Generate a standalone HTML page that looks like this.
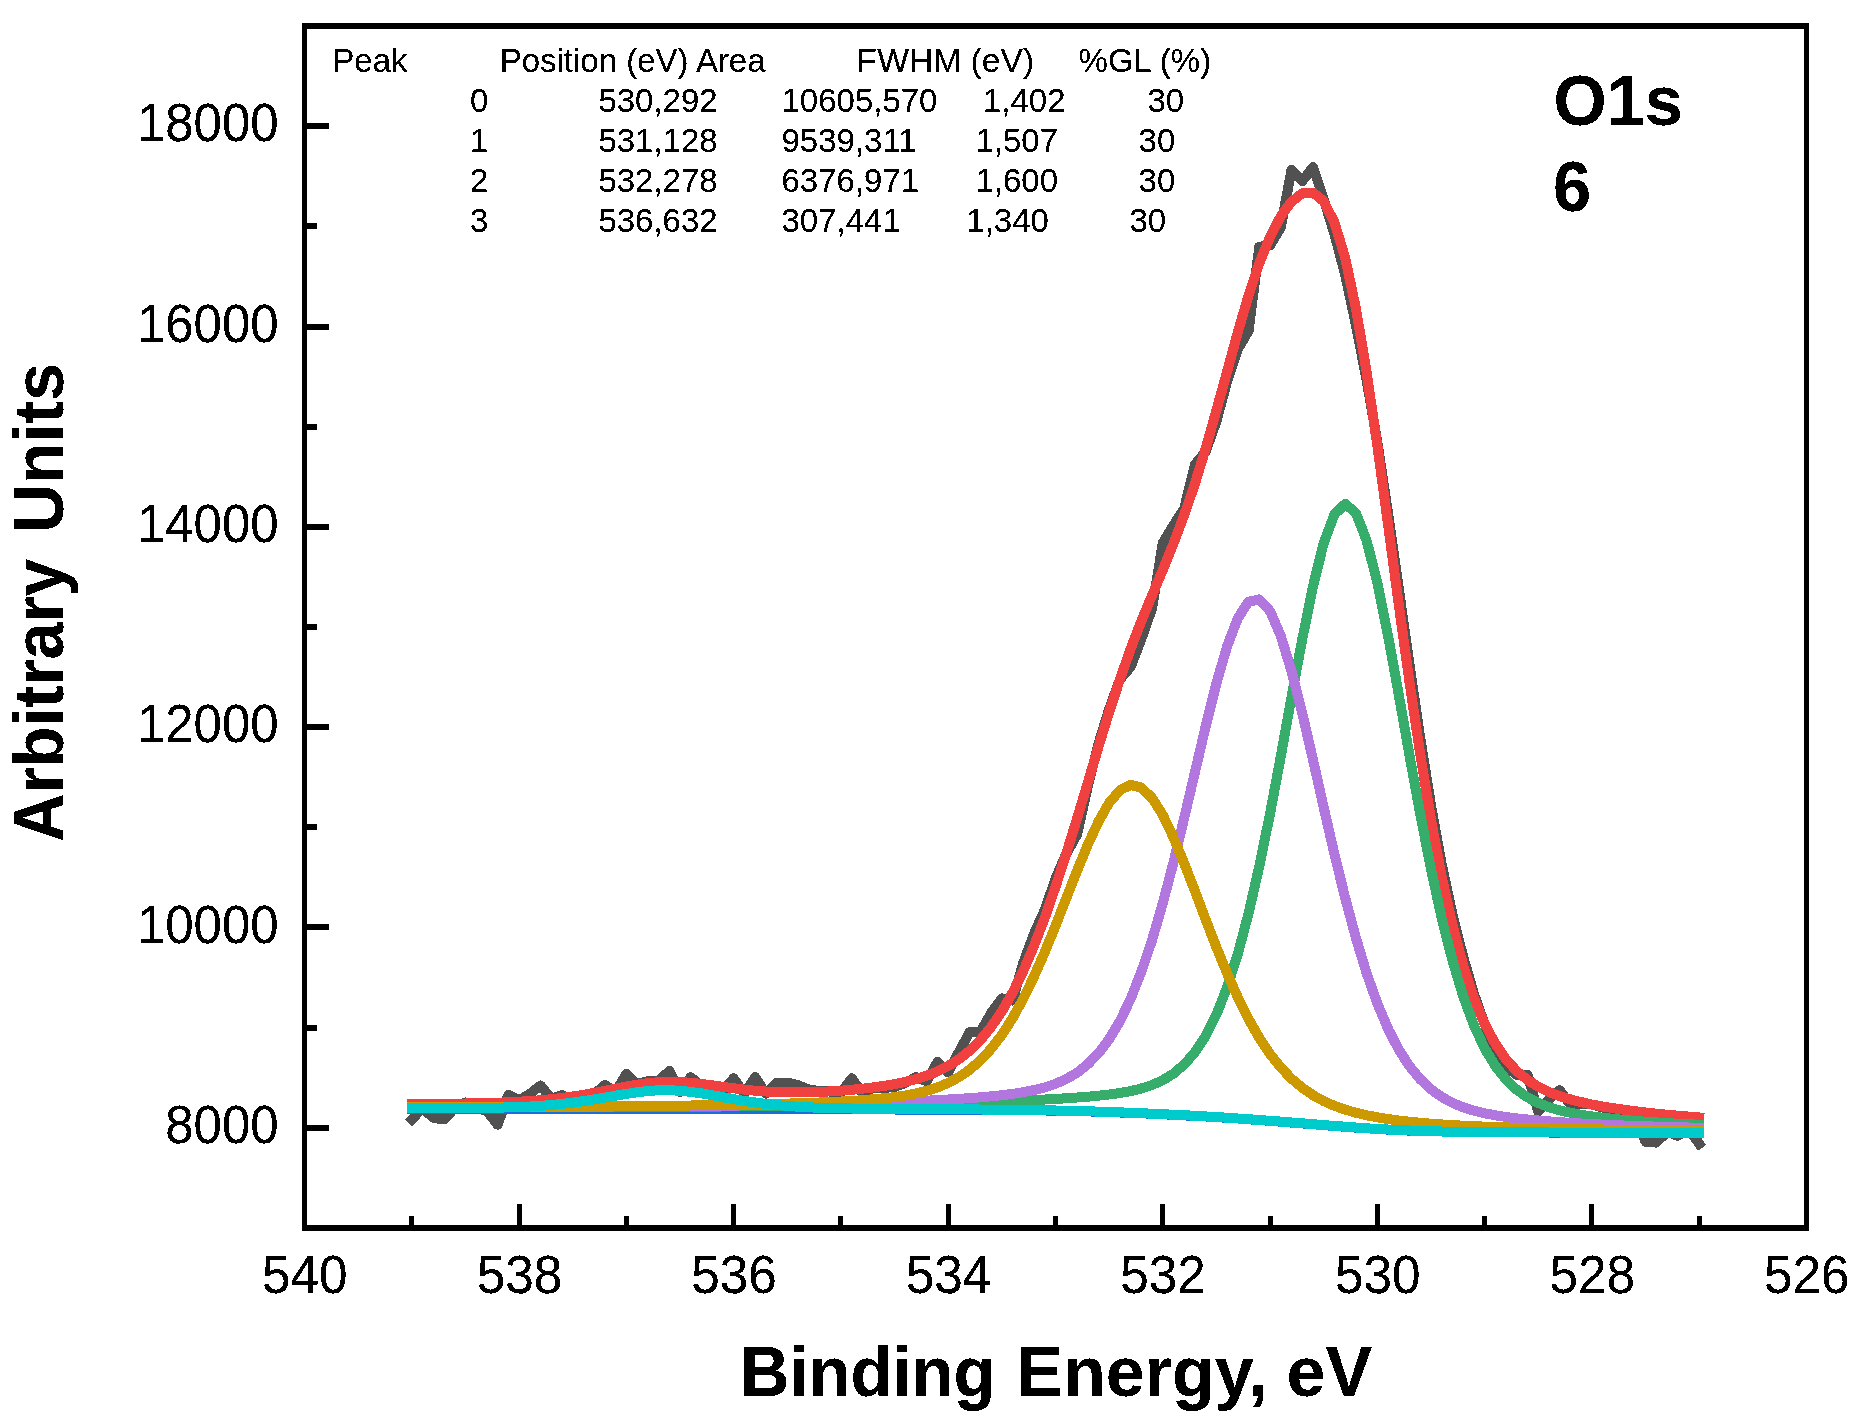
<!DOCTYPE html>
<html lang="en">
<head>
<meta charset="utf-8">
<title>O1s XPS spectrum</title>
<style>
html,body{margin:0;padding:0;background:#fff;}
body{width:1855px;height:1426px;overflow:hidden;}
svg{display:block;}
</style>
</head>
<body>
<svg width="1855" height="1426" viewBox="0 0 1855 1426">
<rect x="0" y="0" width="1855" height="1426" fill="#ffffff"/>
<defs><filter id="hard" x="0" y="0" width="1855" height="1426" filterUnits="userSpaceOnUse" color-interpolation-filters="sRGB"><feComponentTransfer><feFuncA type="discrete" tableValues="0 0 1 1 1"/></feComponentTransfer></filter></defs>
<g id="curves" shape-rendering="crispEdges">
<polyline points="411.8,1119.5 422.5,1108.0 433.2,1117.8 444.0,1119.5 454.7,1108.0 465.4,1102.5 476.2,1108.0 486.9,1111.0 497.6,1124.7 508.3,1095.0 519.1,1100.2 529.8,1094.0 540.5,1085.5 551.3,1098.5 562.0,1095.0 572.7,1100.0 583.4,1097.0 594.2,1094.0 604.9,1085.0 615.6,1092.0 626.4,1074.0 637.1,1084.0 647.8,1081.2 658.5,1081.2 669.3,1070.9 680.0,1091.9 690.7,1077.2 701.5,1086.0 712.2,1088.0 722.9,1091.0 733.6,1078.3 744.4,1094.0 755.1,1077.1 765.8,1093.7 776.6,1082.6 787.3,1082.6 798.0,1085.2 808.7,1089.5 819.5,1091.0 830.2,1091.6 840.9,1093.0 851.7,1078.3 862.4,1093.0 873.1,1088.1 883.8,1088.0 894.6,1087.0 905.3,1083.0 916.0,1077.1 926.8,1081.2 937.5,1061.9 948.2,1072.6 958.9,1052.0 969.7,1032.1 980.4,1032.1 991.1,1013.0 1001.9,998.3 1012.6,1000.6 1023.3,962.8 1034.0,933.8 1044.8,909.8 1055.5,878.9 1066.2,853.8 1077.0,834.8 1087.7,787.0 1098.4,744.1 1109.1,709.3 1119.9,679.4 1130.6,667.0 1141.3,639.2 1152.1,608.3 1162.8,542.9 1173.5,525.1 1184.2,508.5 1195.0,464.5 1205.7,451.4 1216.4,421.5 1227.2,381.1 1237.9,348.9 1248.6,330.9 1259.3,246.8 1270.1,245.4 1280.8,227.3 1291.5,169.8 1302.3,181.1 1313.0,167.0 1323.7,199.2 1334.4,234.0 1345.2,275.0 1355.9,325.0 1366.6,380.2 1377.4,442.4 1388.1,513.7 1398.8,588.6 1409.5,664.6 1420.3,738.2 1431.0,805.1 1441.7,864.0 1452.5,914.5 1463.2,956.7 1473.9,993.8 1484.6,1023.8 1495.4,1050.9 1506.1,1066.4 1516.8,1075.1 1527.6,1075.0 1538.3,1111.6 1549.0,1099.0 1559.7,1090.2 1570.5,1104.7 1581.2,1104.1 1591.9,1104.5 1602.7,1107.5 1613.4,1109.2 1624.1,1109.8 1634.8,1117.2 1645.6,1141.8 1656.3,1142.6 1667.0,1132.0 1677.8,1135.7 1688.5,1129.0 1699.2,1143.8" fill="none" stroke="#515151" stroke-width="10" stroke-linecap="square" stroke-linejoin="round"/>
<polyline points="411.8,1104.4 422.5,1104.2 433.2,1104.1 444.0,1103.9 454.7,1103.7 465.4,1103.5 476.2,1103.3 486.9,1103.0 497.6,1102.7 508.3,1102.3 519.1,1101.7 529.8,1101.1 540.5,1100.2 551.3,1099.2 562.0,1098.0 572.7,1096.5 583.4,1094.8 594.2,1092.9 604.9,1090.8 615.6,1088.7 626.4,1086.6 637.1,1084.7 647.8,1083.2 658.5,1082.2 669.3,1081.8 680.0,1082.0 690.7,1082.8 701.5,1083.9 712.2,1085.3 722.9,1086.8 733.6,1088.3 744.4,1089.6 755.1,1090.7 765.8,1091.5 776.6,1092.1 787.3,1092.4 798.0,1092.5 808.7,1092.3 819.5,1092.0 830.2,1091.4 840.9,1090.7 851.7,1089.8 862.4,1088.7 873.1,1087.4 883.8,1085.9 894.6,1084.1 905.3,1081.9 916.0,1079.1 926.8,1075.7 937.5,1071.4 948.2,1066.0 958.9,1059.2 969.7,1050.7 980.4,1040.1 991.1,1027.0 1001.9,1011.3 1012.6,992.6 1023.3,970.8 1034.0,945.8 1044.8,917.8 1055.5,886.9 1066.2,853.8 1077.0,818.8 1087.7,783.0 1098.4,747.1 1109.1,712.3 1119.9,679.4 1130.6,649.0 1141.3,621.2 1152.1,595.3 1162.8,569.9 1173.5,543.6 1184.2,515.1 1195.0,483.5 1205.7,448.4 1216.4,410.5 1227.2,371.1 1237.9,331.9 1248.6,295.3 1259.3,263.2 1270.1,236.7 1280.8,216.2 1291.5,201.6 1302.3,193.3 1313.0,192.5 1323.7,201.3 1334.4,222.3 1345.2,257.9 1355.9,308.4 1366.6,372.3 1377.4,446.0 1388.1,524.9 1398.8,604.9 1409.5,682.3 1420.3,754.5 1431.0,819.6 1441.7,876.6 1452.5,925.1 1463.2,965.4 1473.9,998.0 1484.6,1023.8 1495.4,1043.9 1506.1,1059.4 1516.8,1071.1 1527.6,1080.0 1538.3,1086.8 1549.0,1092.0 1559.7,1096.1 1570.5,1099.4 1581.2,1102.1 1591.9,1104.5 1602.7,1106.5 1613.4,1108.2 1624.1,1109.8 1634.8,1111.2 1645.6,1112.5 1656.3,1113.7 1667.0,1114.7 1677.8,1115.7 1688.5,1116.6 1699.2,1117.5" fill="none" stroke="#f14040" stroke-width="10" stroke-linecap="square" stroke-linejoin="round"/>
<polyline points="411.8,1108.8 422.5,1108.8 433.2,1108.8 444.0,1108.8 454.7,1108.8 465.4,1108.8 476.2,1108.8 486.9,1108.8 497.6,1108.8 508.3,1108.8 519.1,1108.9 529.8,1108.9 540.5,1108.9 551.3,1108.9 562.0,1108.9 572.7,1108.9 583.4,1108.9 594.2,1108.9 604.9,1108.9 615.6,1109.0 626.4,1109.0 637.1,1109.0 647.8,1109.0 658.5,1109.0 669.3,1109.1 680.0,1109.1 690.7,1109.1 701.5,1109.1 712.2,1109.2 722.9,1109.2 733.6,1109.2 744.4,1109.2 755.1,1109.2 765.8,1109.3 776.6,1109.3 787.3,1109.3 798.0,1109.3 808.7,1109.3 819.5,1109.3 830.2,1109.4 840.9,1109.4 851.7,1109.4 862.4,1109.4 873.1,1109.4 883.8,1109.5 894.6,1109.5 905.3,1109.5 916.0,1109.5 926.8,1109.6 937.5,1109.6 948.2,1109.6 958.9,1109.7 969.7,1109.7 980.4,1109.8 991.1,1109.8 1001.9,1109.9 1012.6,1110.0 1023.3,1110.2 1034.0,1110.3 1044.8,1110.5 1055.5,1110.7 1066.2,1110.9 1077.0,1111.1 1087.7,1111.4 1098.4,1111.7 1109.1,1112.1 1119.9,1112.5 1130.6,1112.9 1141.3,1113.3 1152.1,1113.8 1162.8,1114.3 1173.5,1114.8 1184.2,1115.4 1195.0,1115.9 1205.7,1116.5 1216.4,1117.2 1227.2,1117.8 1237.9,1118.5 1248.6,1119.3 1259.3,1120.1 1270.1,1120.9 1280.8,1121.7 1291.5,1122.6 1302.3,1123.4 1313.0,1124.3 1323.7,1125.1 1334.4,1126.0 1345.2,1126.8 1355.9,1127.6 1366.6,1128.3 1377.4,1129.0 1388.1,1129.6 1398.8,1130.1 1409.5,1130.6 1420.3,1130.9 1431.0,1131.3 1441.7,1131.5 1452.5,1131.7 1463.2,1131.9 1473.9,1132.0 1484.6,1132.2 1495.4,1132.3 1506.1,1132.3 1516.8,1132.4 1527.6,1132.4 1538.3,1132.5 1549.0,1132.5 1559.7,1132.6 1570.5,1132.6 1581.2,1132.6 1591.9,1132.6 1602.7,1132.7 1613.4,1132.7 1624.1,1132.7 1634.8,1132.7 1645.6,1132.8 1656.3,1132.8 1667.0,1132.8 1677.8,1132.8 1688.5,1132.8 1699.2,1132.8" fill="none" stroke="#1a6fdf" stroke-width="10" stroke-linecap="square" stroke-linejoin="round"/>
<polyline points="411.8,1107.6 422.5,1107.6 433.2,1107.6 444.0,1107.5 454.7,1107.5 465.4,1107.5 476.2,1107.4 486.9,1107.4 497.6,1107.4 508.3,1107.4 519.1,1107.3 529.8,1107.3 540.5,1107.3 551.3,1107.2 562.0,1107.2 572.7,1107.1 583.4,1107.1 594.2,1107.1 604.9,1107.0 615.6,1107.0 626.4,1107.0 637.1,1106.9 647.8,1106.9 658.5,1106.8 669.3,1106.8 680.0,1106.7 690.7,1106.7 701.5,1106.6 712.2,1106.6 722.9,1106.5 733.6,1106.4 744.4,1106.4 755.1,1106.3 765.8,1106.2 776.6,1106.1 787.3,1106.0 798.0,1105.9 808.7,1105.7 819.5,1105.6 830.2,1105.5 840.9,1105.3 851.7,1105.2 862.4,1105.0 873.1,1104.8 883.8,1104.6 894.6,1104.4 905.3,1104.2 916.0,1104.0 926.8,1103.7 937.5,1103.5 948.2,1103.2 958.9,1102.9 969.7,1102.5 980.4,1102.2 991.1,1101.8 1001.9,1101.4 1012.6,1101.0 1023.3,1100.5 1034.0,1100.0 1044.8,1099.5 1055.5,1098.9 1066.2,1098.3 1077.0,1097.5 1087.7,1096.7 1098.4,1095.7 1109.1,1094.5 1119.9,1093.0 1130.6,1091.1 1141.3,1088.5 1152.1,1085.0 1162.8,1080.2 1173.5,1073.6 1184.2,1064.5 1195.0,1052.2 1205.7,1035.8 1216.4,1014.4 1227.2,987.2 1237.9,953.6 1248.6,913.2 1259.3,866.2 1270.1,813.4 1280.8,756.2 1291.5,697.0 1302.3,639.0 1313.0,586.2 1323.7,543.1 1334.4,514.5 1345.2,503.9 1355.9,513.0 1366.6,540.5 1377.4,583.1 1388.1,636.1 1398.8,695.0 1409.5,755.5 1420.3,814.4 1431.0,869.2 1441.7,918.2 1452.5,960.7 1463.2,996.3 1473.9,1025.3 1484.6,1048.3 1495.4,1066.1 1506.1,1079.7 1516.8,1089.8 1527.6,1097.4 1538.3,1103.0 1549.0,1107.2 1559.7,1110.4 1570.5,1112.8 1581.2,1114.8 1591.9,1116.4 1602.7,1117.8 1613.4,1118.9 1624.1,1119.9 1634.8,1120.9 1645.6,1121.7 1656.3,1122.4 1667.0,1123.1 1677.8,1123.7 1688.5,1124.2 1699.2,1124.7" fill="none" stroke="#37ad6b" stroke-width="10" stroke-linecap="square" stroke-linejoin="round"/>
<polyline points="411.8,1107.4 422.5,1107.3 433.2,1107.3 444.0,1107.3 454.7,1107.2 465.4,1107.2 476.2,1107.2 486.9,1107.1 497.6,1107.1 508.3,1107.0 519.1,1107.0 529.8,1106.9 540.5,1106.9 551.3,1106.8 562.0,1106.8 572.7,1106.7 583.4,1106.7 594.2,1106.6 604.9,1106.6 615.6,1106.5 626.4,1106.4 637.1,1106.4 647.8,1106.3 658.5,1106.2 669.3,1106.2 680.0,1106.1 690.7,1106.0 701.5,1105.9 712.2,1105.8 722.9,1105.7 733.6,1105.6 744.4,1105.4 755.1,1105.3 765.8,1105.1 776.6,1105.0 787.3,1104.8 798.0,1104.6 808.7,1104.4 819.5,1104.2 830.2,1103.9 840.9,1103.7 851.7,1103.4 862.4,1103.1 873.1,1102.8 883.8,1102.4 894.6,1102.0 905.3,1101.6 916.0,1101.2 926.8,1100.7 937.5,1100.1 948.2,1099.5 958.9,1098.9 969.7,1098.1 980.4,1097.3 991.1,1096.3 1001.9,1095.2 1012.6,1093.9 1023.3,1092.2 1034.0,1090.1 1044.8,1087.4 1055.5,1083.8 1066.2,1079.0 1077.0,1072.7 1087.7,1064.3 1098.4,1053.4 1109.1,1039.2 1119.9,1021.2 1130.6,998.9 1141.3,971.9 1152.1,940.0 1162.8,903.2 1173.5,862.3 1184.2,818.0 1195.0,772.0 1205.7,726.2 1216.4,683.3 1227.2,646.1 1237.9,618.0 1248.6,601.7 1259.3,599.4 1270.1,611.2 1280.8,636.0 1291.5,671.1 1302.3,713.4 1313.0,759.8 1323.7,807.4 1334.4,854.1 1345.2,898.0 1355.9,937.9 1366.6,973.2 1377.4,1003.6 1388.1,1028.9 1398.8,1049.7 1409.5,1066.2 1420.3,1079.3 1431.0,1089.3 1441.7,1097.0 1452.5,1102.9 1463.2,1107.3 1473.9,1110.7 1484.6,1113.3 1495.4,1115.3 1506.1,1117.0 1516.8,1118.4 1527.6,1119.5 1538.3,1120.5 1549.0,1121.4 1559.7,1122.2 1570.5,1122.9 1581.2,1123.5 1591.9,1124.1 1602.7,1124.6 1613.4,1125.1 1624.1,1125.5 1634.8,1125.9 1645.6,1126.3 1656.3,1126.6 1667.0,1127.0 1677.8,1127.3 1688.5,1127.5 1699.2,1127.8" fill="none" stroke="#b177de" stroke-width="10" stroke-linecap="square" stroke-linejoin="round"/>
<polyline points="411.8,1107.4 422.5,1107.4 433.2,1107.4 444.0,1107.3 454.7,1107.3 465.4,1107.2 476.2,1107.2 486.9,1107.1 497.6,1107.1 508.3,1107.0 519.1,1107.0 529.8,1106.9 540.5,1106.8 551.3,1106.8 562.0,1106.7 572.7,1106.6 583.4,1106.6 594.2,1106.5 604.9,1106.4 615.6,1106.3 626.4,1106.2 637.1,1106.1 647.8,1106.0 658.5,1105.9 669.3,1105.8 680.0,1105.7 690.7,1105.5 701.5,1105.4 712.2,1105.2 722.9,1105.1 733.6,1104.9 744.4,1104.6 755.1,1104.4 765.8,1104.2 776.6,1103.9 787.3,1103.6 798.0,1103.2 808.7,1102.9 819.5,1102.5 830.2,1102.0 840.9,1101.5 851.7,1100.9 862.4,1100.2 873.1,1099.3 883.8,1098.3 894.6,1097.1 905.3,1095.5 916.0,1093.5 926.8,1090.8 937.5,1087.4 948.2,1082.9 958.9,1077.1 969.7,1069.7 980.4,1060.4 991.1,1048.8 1001.9,1034.8 1012.6,1018.1 1023.3,998.6 1034.0,976.5 1044.8,952.0 1055.5,925.8 1066.2,898.4 1077.0,871.0 1087.7,844.9 1098.4,821.7 1109.1,802.9 1119.9,790.2 1130.6,784.9 1141.3,787.6 1152.1,798.0 1162.8,815.1 1173.5,837.5 1184.2,863.4 1195.0,891.2 1205.7,919.6 1216.4,947.3 1227.2,973.5 1237.9,997.5 1248.6,1019.1 1259.3,1037.9 1270.1,1054.0 1280.8,1067.5 1291.5,1078.7 1302.3,1087.8 1313.0,1095.2 1323.7,1101.1 1334.4,1105.8 1345.2,1109.6 1355.9,1112.7 1366.6,1115.3 1377.4,1117.3 1388.1,1119.1 1398.8,1120.5 1409.5,1121.7 1420.3,1122.8 1431.0,1123.7 1441.7,1124.4 1452.5,1125.1 1463.2,1125.7 1473.9,1126.2 1484.6,1126.6 1495.4,1127.0 1506.1,1127.4 1516.8,1127.7 1527.6,1128.0 1538.3,1128.3 1549.0,1128.5 1559.7,1128.7 1570.5,1128.9 1581.2,1129.1 1591.9,1129.3 1602.7,1129.5 1613.4,1129.7 1624.1,1129.8 1634.8,1129.9 1645.6,1130.1 1656.3,1130.2 1667.0,1130.3 1677.8,1130.4 1688.5,1130.5 1699.2,1130.6" fill="none" stroke="#cc9900" stroke-width="10" stroke-linecap="square" stroke-linejoin="round"/>
<polyline points="411.8,1108.4 422.5,1108.3 433.2,1108.3 444.0,1108.3 454.7,1108.2 465.4,1108.1 476.2,1108.0 486.9,1107.9 497.6,1107.7 508.3,1107.4 519.1,1107.0 529.8,1106.5 540.5,1105.9 551.3,1105.0 562.0,1103.9 572.7,1102.6 583.4,1101.1 594.2,1099.4 604.9,1097.6 615.6,1095.7 626.4,1093.9 637.1,1092.3 647.8,1091.0 658.5,1090.3 669.3,1090.2 680.0,1090.8 690.7,1091.9 701.5,1093.4 712.2,1095.2 722.9,1097.2 733.6,1099.1 744.4,1100.9 755.1,1102.5 765.8,1103.9 776.6,1105.0 787.3,1106.0 798.0,1106.7 808.7,1107.3 819.5,1107.8 830.2,1108.1 840.9,1108.3 851.7,1108.5 862.4,1108.7 873.1,1108.8 883.8,1108.9 894.6,1109.0 905.3,1109.0 916.0,1109.1 926.8,1109.2 937.5,1109.2 948.2,1109.3 958.9,1109.3 969.7,1109.4 980.4,1109.5 991.1,1109.6 1001.9,1109.7 1012.6,1109.8 1023.3,1109.9 1034.0,1110.1 1044.8,1110.3 1055.5,1110.5 1066.2,1110.7 1077.0,1111.0 1087.7,1111.3 1098.4,1111.6 1109.1,1111.9 1119.9,1112.3 1130.6,1112.8 1141.3,1113.2 1152.1,1113.7 1162.8,1114.2 1173.5,1114.7 1184.2,1115.2 1195.0,1115.8 1205.7,1116.4 1216.4,1117.1 1227.2,1117.7 1237.9,1118.5 1248.6,1119.2 1259.3,1120.0 1270.1,1120.8 1280.8,1121.6 1291.5,1122.5 1302.3,1123.3 1313.0,1124.2 1323.7,1125.1 1334.4,1125.9 1345.2,1126.7 1355.9,1127.5 1366.6,1128.3 1377.4,1128.9 1388.1,1129.5 1398.8,1130.1 1409.5,1130.5 1420.3,1130.9 1431.0,1131.2 1441.7,1131.5 1452.5,1131.7 1463.2,1131.9 1473.9,1132.0 1484.6,1132.1 1495.4,1132.2 1506.1,1132.3 1516.8,1132.3 1527.6,1132.4 1538.3,1132.4 1549.0,1132.5 1559.7,1132.5 1570.5,1132.6 1581.2,1132.6 1591.9,1132.6 1602.7,1132.6 1613.4,1132.7 1624.1,1132.7 1634.8,1132.7 1645.6,1132.7 1656.3,1132.7 1667.0,1132.8 1677.8,1132.8 1688.5,1132.8 1699.2,1132.8" fill="none" stroke="#00cbcc" stroke-width="10" stroke-linecap="square" stroke-linejoin="round"/>
</g>
<g id="axes" fill="#000000" shape-rendering="crispEdges">
<rect x="302" y="23" width="1507" height="6"/>
<rect x="302" y="1225" width="1507" height="6"/>
<rect x="302" y="23" width="5" height="1208"/>
<rect x="1804" y="23" width="5" height="1208"/>
<rect x="1697" y="1216" width="5" height="10"/>
<rect x="1589" y="1204" width="5" height="22"/>
<rect x="1482" y="1216" width="5" height="10"/>
<rect x="1375" y="1204" width="5" height="22"/>
<rect x="1268" y="1216" width="5" height="10"/>
<rect x="1160" y="1204" width="5" height="22"/>
<rect x="1053" y="1216" width="5" height="10"/>
<rect x="946" y="1204" width="5" height="22"/>
<rect x="838" y="1216" width="5" height="10"/>
<rect x="731" y="1204" width="5" height="22"/>
<rect x="624" y="1216" width="5" height="10"/>
<rect x="517" y="1204" width="5" height="22"/>
<rect x="409" y="1216" width="5" height="10"/>
<rect x="306" y="1125" width="23" height="6"/>
<rect x="306" y="1025" width="11" height="6"/>
<rect x="306" y="924" width="23" height="6"/>
<rect x="306" y="824" width="11" height="6"/>
<rect x="306" y="724" width="23" height="6"/>
<rect x="306" y="624" width="11" height="6"/>
<rect x="306" y="524" width="23" height="6"/>
<rect x="306" y="424" width="11" height="6"/>
<rect x="306" y="324" width="23" height="6"/>
<rect x="306" y="223" width="11" height="6"/>
<rect x="306" y="123" width="23" height="6"/>
</g>
<g id="labels" filter="url(#hard)">
<g id="ticklabels">
<text transform="translate(1806.80,1292.70) scale(1.005,1.045)" font-family="'Liberation Sans', Arial, sans-serif" font-size="51" text-anchor="middle" fill="#000">526</text>
<text transform="translate(1592.23,1292.70) scale(1.005,1.045)" font-family="'Liberation Sans', Arial, sans-serif" font-size="51" text-anchor="middle" fill="#000">528</text>
<text transform="translate(1377.66,1292.70) scale(1.005,1.045)" font-family="'Liberation Sans', Arial, sans-serif" font-size="51" text-anchor="middle" fill="#000">530</text>
<text transform="translate(1163.09,1292.70) scale(1.005,1.045)" font-family="'Liberation Sans', Arial, sans-serif" font-size="51" text-anchor="middle" fill="#000">532</text>
<text transform="translate(948.51,1292.70) scale(1.005,1.045)" font-family="'Liberation Sans', Arial, sans-serif" font-size="51" text-anchor="middle" fill="#000">534</text>
<text transform="translate(733.94,1292.70) scale(1.005,1.045)" font-family="'Liberation Sans', Arial, sans-serif" font-size="51" text-anchor="middle" fill="#000">536</text>
<text transform="translate(519.37,1292.70) scale(1.005,1.045)" font-family="'Liberation Sans', Arial, sans-serif" font-size="51" text-anchor="middle" fill="#000">538</text>
<text transform="translate(304.80,1292.70) scale(1.005,1.045)" font-family="'Liberation Sans', Arial, sans-serif" font-size="51" text-anchor="middle" fill="#000">540</text>
<text transform="translate(278.70,1142.83) scale(1.0,1.045)" font-family="'Liberation Sans', Arial, sans-serif" font-size="51" text-anchor="end" fill="#000">8000</text>
<text transform="translate(278.70,942.50) scale(1.0,1.045)" font-family="'Liberation Sans', Arial, sans-serif" font-size="51" text-anchor="end" fill="#000">10000</text>
<text transform="translate(278.70,742.17) scale(1.0,1.045)" font-family="'Liberation Sans', Arial, sans-serif" font-size="51" text-anchor="end" fill="#000">12000</text>
<text transform="translate(278.70,541.83) scale(1.0,1.045)" font-family="'Liberation Sans', Arial, sans-serif" font-size="51" text-anchor="end" fill="#000">14000</text>
<text transform="translate(278.70,341.50) scale(1.0,1.045)" font-family="'Liberation Sans', Arial, sans-serif" font-size="51" text-anchor="end" fill="#000">16000</text>
<text transform="translate(278.70,141.17) scale(1.0,1.045)" font-family="'Liberation Sans', Arial, sans-serif" font-size="51" text-anchor="end" fill="#000">18000</text>
</g>
<g id="titles">
<text transform="translate(740.00,1396.30) scale(1.009,1.035)" font-family="'Liberation Sans', Arial, sans-serif" font-size="68" font-weight="bold" text-anchor="start" fill="#000">Binding</text>
<text transform="translate(1016.30,1396.30) scale(1.03,1.035)" font-family="'Liberation Sans', Arial, sans-serif" font-size="68" font-weight="bold" text-anchor="start" fill="#000">Energy,</text>
<text transform="translate(1286.50,1396.30) scale(1.03,1.035)" font-family="'Liberation Sans', Arial, sans-serif" font-size="68" font-weight="bold" text-anchor="start" fill="#000">eV</text>
<text transform="translate(63.20,842.00) rotate(-90) scale(0.986,1.035)" font-family="'Liberation Sans', Arial, sans-serif" font-size="68" font-weight="bold" text-anchor="start" fill="#000">Arbitrary</text>
<text transform="translate(63.20,533.00) rotate(-90) scale(1.0,1.035)" font-family="'Liberation Sans', Arial, sans-serif" font-size="68" font-weight="bold" text-anchor="start" fill="#000">Units</text>
<text transform="translate(1553.50,124.90) scale(1.005,1.035)" font-family="'Liberation Sans', Arial, sans-serif" font-size="68" font-weight="bold" text-anchor="start" fill="#000">O1s</text>
<text transform="translate(1553.00,210.80) scale(1.01,1.035)" font-family="'Liberation Sans', Arial, sans-serif" font-size="68" font-weight="bold" text-anchor="start" fill="#000">6</text>
</g>
<g id="table">
<text transform="translate(332.30,71.70) scale(1.0,1.03)" font-family="'Liberation Sans', Arial, sans-serif" font-size="33" text-anchor="start" fill="#000">Peak</text>
<text transform="translate(499.70,71.70) scale(1.0,1.03)" font-family="'Liberation Sans', Arial, sans-serif" font-size="33" text-anchor="start" fill="#000">Position (eV) Area</text>
<text transform="translate(856.60,71.70) scale(1.02,1.03)" font-family="'Liberation Sans', Arial, sans-serif" font-size="33" text-anchor="start" fill="#000">FWHM (eV)</text>
<text transform="translate(1078.60,71.70) scale(1.0,1.03)" font-family="'Liberation Sans', Arial, sans-serif" font-size="33" text-anchor="start" fill="#000">%GL (%)</text>
<text transform="translate(470.00,111.80) scale(1.0,1.03)" font-family="'Liberation Sans', Arial, sans-serif" font-size="33" text-anchor="start" fill="#000">0</text>
<text transform="translate(598.40,111.80) scale(1.0,1.03)" font-family="'Liberation Sans', Arial, sans-serif" font-size="33" text-anchor="start" fill="#000">530,292</text>
<text transform="translate(781.50,111.80) scale(1.0,1.03)" font-family="'Liberation Sans', Arial, sans-serif" font-size="33" text-anchor="start" fill="#000">10605,570</text>
<text transform="translate(983.00,111.80) scale(1.0,1.03)" font-family="'Liberation Sans', Arial, sans-serif" font-size="33" text-anchor="start" fill="#000">1,402</text>
<text transform="translate(1147.50,111.80) scale(1.0,1.03)" font-family="'Liberation Sans', Arial, sans-serif" font-size="33" text-anchor="start" fill="#000">30</text>
<text transform="translate(470.00,151.95) scale(1.0,1.03)" font-family="'Liberation Sans', Arial, sans-serif" font-size="33" text-anchor="start" fill="#000">1</text>
<text transform="translate(598.40,151.95) scale(1.0,1.03)" font-family="'Liberation Sans', Arial, sans-serif" font-size="33" text-anchor="start" fill="#000">531,128</text>
<text transform="translate(781.50,151.95) scale(1.0,1.03)" font-family="'Liberation Sans', Arial, sans-serif" font-size="33" text-anchor="start" fill="#000">9539,311</text>
<text transform="translate(975.50,151.95) scale(1.0,1.03)" font-family="'Liberation Sans', Arial, sans-serif" font-size="33" text-anchor="start" fill="#000">1,507</text>
<text transform="translate(1138.60,151.95) scale(1.0,1.03)" font-family="'Liberation Sans', Arial, sans-serif" font-size="33" text-anchor="start" fill="#000">30</text>
<text transform="translate(470.00,192.10) scale(1.0,1.03)" font-family="'Liberation Sans', Arial, sans-serif" font-size="33" text-anchor="start" fill="#000">2</text>
<text transform="translate(598.40,192.10) scale(1.0,1.03)" font-family="'Liberation Sans', Arial, sans-serif" font-size="33" text-anchor="start" fill="#000">532,278</text>
<text transform="translate(781.50,192.10) scale(1.0,1.03)" font-family="'Liberation Sans', Arial, sans-serif" font-size="33" text-anchor="start" fill="#000">6376,971</text>
<text transform="translate(975.50,192.10) scale(1.0,1.03)" font-family="'Liberation Sans', Arial, sans-serif" font-size="33" text-anchor="start" fill="#000">1,600</text>
<text transform="translate(1138.60,192.10) scale(1.0,1.03)" font-family="'Liberation Sans', Arial, sans-serif" font-size="33" text-anchor="start" fill="#000">30</text>
<text transform="translate(470.00,232.25) scale(1.0,1.03)" font-family="'Liberation Sans', Arial, sans-serif" font-size="33" text-anchor="start" fill="#000">3</text>
<text transform="translate(598.40,232.25) scale(1.0,1.03)" font-family="'Liberation Sans', Arial, sans-serif" font-size="33" text-anchor="start" fill="#000">536,632</text>
<text transform="translate(781.50,232.25) scale(1.0,1.03)" font-family="'Liberation Sans', Arial, sans-serif" font-size="33" text-anchor="start" fill="#000">307,441</text>
<text transform="translate(966.30,232.25) scale(1.0,1.03)" font-family="'Liberation Sans', Arial, sans-serif" font-size="33" text-anchor="start" fill="#000">1,340</text>
<text transform="translate(1129.40,232.25) scale(1.0,1.03)" font-family="'Liberation Sans', Arial, sans-serif" font-size="33" text-anchor="start" fill="#000">30</text>
</g>
</g>
</svg>
</body>
</html>
